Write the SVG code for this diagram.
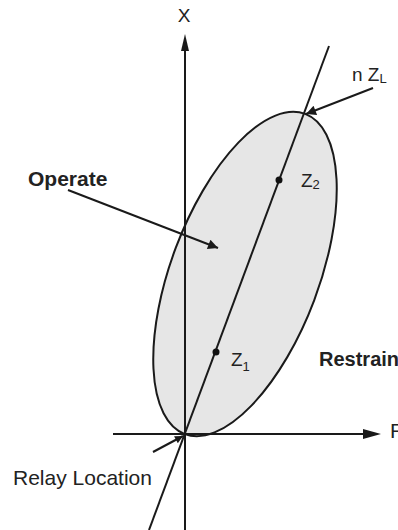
<svg xmlns="http://www.w3.org/2000/svg" width="398" height="530" viewBox="0 0 398 530">
<defs>
<style>
.ln{stroke:#1a1a1a;stroke-width:2;fill:none}
.ar{stroke:#1a1a1a;stroke-width:2;fill:none}
.t{font-family:"Liberation Sans",Arial,sans-serif;fill:#222}
.b{font-weight:bold}
.dot{fill:#111}
</style>
<marker id="ah" viewBox="0 0 10 10" refX="10" refY="5" markerWidth="8" markerHeight="5" markerUnits="strokeWidth" orient="auto">
<path d="M0,0 L10,5 L0,10 Z" fill="#1a1a1a"/>
</marker>
<marker id="ahs" viewBox="0 0 10 10" refX="10" refY="5" markerWidth="6" markerHeight="4" markerUnits="strokeWidth" orient="auto">
<path d="M0,0 L10,5 L0,10 Z" fill="#1a1a1a"/>
</marker>
</defs>
<rect width="398" height="530" fill="#fff"/>
<g id="ellipse">
<ellipse cx="0" cy="0" rx="171" ry="74" transform="translate(245 274) rotate(-69.4)" fill="#e6e6e6" stroke="#1a1a1a" stroke-width="2"/>
</g>
<g id="connectors">
<line class="ln" x1="185" y1="530" x2="185" y2="40"/>
<path d="M185,34 L189,51 L181,51 Z" fill="#1a1a1a"/>
<line class="ln" x1="113" y1="434" x2="368" y2="434"/>
<path d="M381,434 L363,439 L363,429 Z" fill="#1a1a1a"/>
<line class="ln" x1="149" y1="530" x2="329" y2="46"/>
<line class="ar" x1="68" y1="190" x2="218" y2="248" marker-end="url(#ah)"/>
<line class="ar" x1="373" y1="88" x2="306" y2="114" marker-end="url(#ah)"/>
<line class="ar" x1="153" y1="452" x2="183" y2="436" marker-end="url(#ahs)"/>
</g>
<g id="z2"><circle class="dot" cx="279" cy="180" r="3.5"/>
<text class="t" x="301" y="187" font-size="19">Z<tspan font-size="13" dy="2">2</tspan></text></g>
<g id="z1"><circle class="dot" cx="216" cy="352" r="3.5"/>
<text class="t" x="231" y="366" font-size="19">Z<tspan font-size="13" dy="5">1</tspan></text></g>
<g id="nzl"><text class="t" x="352" y="81" font-size="19">n Z<tspan font-size="13" dy="2">L</tspan></text></g>
<g id="xlabel"><text class="t" x="184" y="22" font-size="19" text-anchor="middle">X</text></g>
<g id="rlabel"><text class="t" x="390" y="438" font-size="21">R</text></g>
<g id="operate"><text class="t b" x="28" y="186" font-size="21">Operate</text></g>
<g id="restrain"><text class="t b" x="319" y="366" font-size="20">Restrain</text></g>
<g id="relay"><text class="t" x="13" y="485" font-size="21">Relay Location</text></g>
</svg>
